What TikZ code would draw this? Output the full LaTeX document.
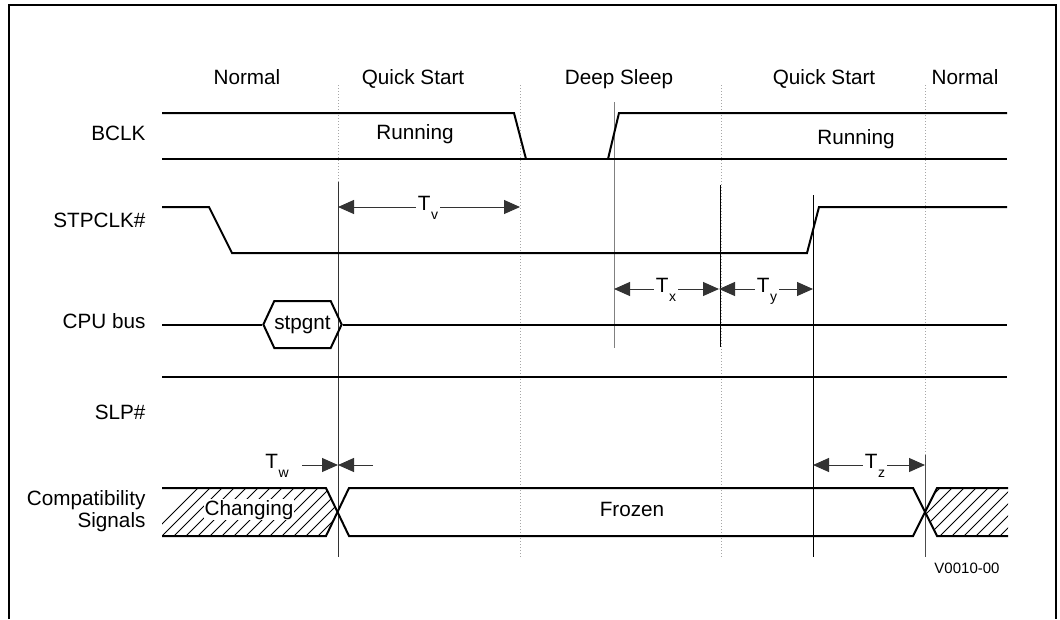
\documentclass[tikz,border=0pt]{standalone}
\usepackage{fontspec}
\setmainfont{Liberation Sans}
\usetikzlibrary{arrows.meta, positioning, calc, shapes.symbols}

\newcommand{\tsub}[2]{#1\kern0.5pt\raisebox{-9pt}{\fontsize{14}{14}\selectfont #2}}

\begin{document}
\begin{tikzpicture}[
    x=1pt, y=-1pt,
    font=\fontsize{20.7}{22}\selectfont,
    frame/.style={line width=2.5pt},
    wave/.style={line width=2pt, line join=miter},
    phase/.style={draw=gray!70, line width=1pt, dotted},
    edgeline/.style={line width=1pt},
    siglabel/.style={anchor=base east, align=right},
    state/.style={anchor=base},
    bus/.style={shape=signal, signal to=east and west, signal pointer angle=130, draw, line width=2pt, minimum width=71pt, minimum height=47pt, inner sep=0pt},
    dim/.style={{Triangle[length=16pt, width=14pt]}-{Triangle[length=16pt, width=14pt]}, draw=black!80, line width=1pt},
    dimtip/.style={-{Triangle[length=16pt, width=14pt]}, draw=black!80, line width=1pt},
    dimlabel/.style={anchor=base, fill=white, inner sep=1.5pt},
    hatch/.style={line width=0.8pt}
]
    \useasboundingbox (0,0) rectangle (1060,619);
    \draw[frame] (9,619) -- (9,5) -- (1056,5) -- (1056,619);

    % Phase names and boundaries
    \node[state] (nrm1) at (247,84) {Normal};
    \node[state] (qs1) at (413,84) {Quick Start};
    \node[state] (ds) at (619,84) {Deep Sleep};
    \node[state] (qs2) at (824,84) {Quick Start};
    \node[state] (nrm2) at (965,84) {Normal};
    \foreach \x in {338,520,721,925}
        \draw[phase] (\x,85) -- (\x,557);

    % Signal names
    \node[siglabel] (bclk) at (149,140) {BCLK};
    \node[siglabel] (stpclk) at (149,227) {STPCLK\#};
    \node[siglabel] (cpubus) at (149,328) {CPU bus};
    \node[siglabel] (slp) at (149,419) {SLP\#};
    \node[siglabel] (compat) at (149,527) {Compatibility\\Signals};

    % Edge markers
    \draw[edgeline, black!80] (338,182) -- (338,557);
    \draw[edgeline, gray] (614,102) -- (614,348);
    \draw[edgeline] (720,185) -- (720,347);
    \draw[edgeline] (813,195) -- (813,557);
    \draw[edgeline, gray!60!black] (925,455) -- (925,557);

    % BCLK
    \draw[wave] (162,113) -- (514,113) -- (526,159);
    \draw[wave] (608,159) -- (619,113) -- (1007,113);
    \draw[wave] (162,159) -- (1007,159);
    \node[state] (run1) at (415,139) {Running};
    \node[state] (run2) at (856,144) {Running};

    % STPCLK#
    \draw[wave] (162,207) -- (209,207) -- (232,253) -- (807,253) -- (819,207) -- (1007,207);

    % CPU bus
    \node[bus] (gnt) at (302.5,324.5) {stpgnt};
    \draw[wave] (162,324.5) -- (gnt.west);
    \draw[wave] (gnt.east) -- (1007,324.5);

    % SLP#
    \draw[wave] (162,377) -- (1007,377);

    % Compatibility signals
    \begin{scope}
        \clip (162,488) -- (326,488) -- (338,512) -- (326,536) -- (162,536) -- cycle;
        \foreach \k in {0,...,16}
            \draw[hatch] (150+\k*12,536) -- ++(48,-48);
    \end{scope}
    \begin{scope}
        \clip (925,512) -- (937,488) -- (1008,488) -- (1008,536) -- (937,536) -- cycle;
        \foreach \k in {0,...,10}
            \draw[hatch] (880+\k*12,536) -- ++(48,-48);
    \end{scope}
    \draw[wave] (162,488) -- (326,488) -- (349,536) -- (913,536) -- (937,488) -- (1008,488);
    \draw[wave] (162,536) -- (326,536) -- (349,488) -- (913,488) -- (937,536) -- (1008,536);
    \node[state, fill=white, inner sep=1pt] (chg) at (249,515) {Changing};
    \node[state] (frz) at (632,516) {Frozen};

    % Timing arrows
    \coordinate (tvA) at (338,207);
    \coordinate (tvB) at (520,207);
    \coordinate (txA) at (614,289);
    \coordinate (txB) at (719,289);
    \coordinate (tyB) at (813,289);
    \coordinate (twA) at (338,465);
    \coordinate (twL) at (302,465);
    \coordinate (twR) at (373,465);
    \coordinate (tzA) at (813,465);
    \coordinate (tzB) at (925,465);

    \draw[dim] (tvA) -- (tvB);
    \draw[dim] (txA) -- (txB);
    \draw[dim] (txB) -- (tyB);
    \draw[dim] (tzA) -- (tzB);
    \draw[dimtip] (twL) -- (twA);
    \draw[dimtip] (twR) -- (twA);

    \node[dimlabel] (tv) at (428,210) {\tsub{T}{v}};
    \node[dimlabel] (tx) at (666,292) {\tsub{T}{x}};
    \node[dimlabel] (ty) at (767,292) {\tsub{T}{y}};
    \node[dimlabel] (tz) at (875,468) {\tsub{T}{z}};
    \node[dimlabel] (tw) at (277,468) {\tsub{T}{w}};

    \node[anchor=base, font=\fontsize{15}{15}\selectfont] (fig) at (967,573) {V0010-00};
\end{tikzpicture}
\end{document}
